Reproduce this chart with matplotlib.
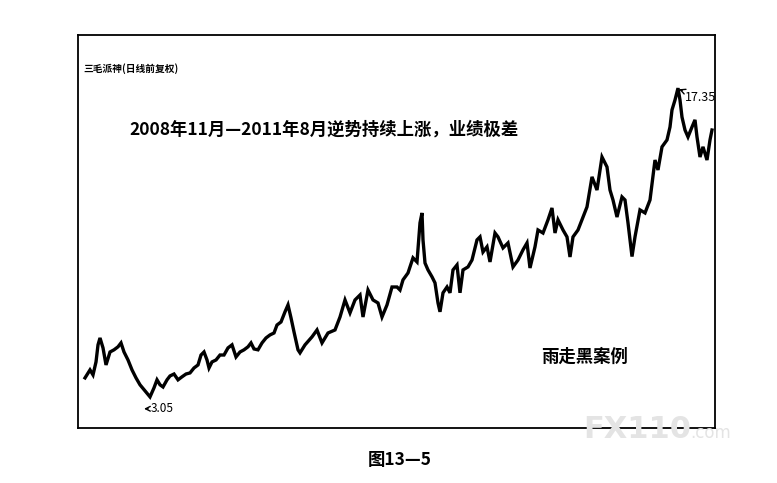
import matplotlib
matplotlib.use("Agg")
import matplotlib.pyplot as plt
import numpy as np

plt.rcParams['font.family'] = ['Noto Sans CJK SC', 'DejaVu Sans']

# trading day index (approx.) and closing price
day = [0, 5, 8, 11, 13, 15, 18, 21, 25, 29, 33, 36, 39, 43, 47, 51, 55, 60, 65, 69,
       72, 75, 78, 82, 85, 89, 93, 97, 101, 105, 109, 113, 116, 119, 122, 124, 127, 131, 135, 139,
       143, 147, 151, 155, 159, 163, 166, 169, 173, 177, 181, 185, 189, 192, 196, 200, 203, 206, 209, 213,
       215, 220, 227, 232, 237, 243, 250, 255, 260, 265, 270, 275, 278, 283, 288, 293, 297, 302, 307, 312,
       315, 318, 323, 328, 332, 335, 337, 338, 340, 343, 347, 350, 353, 355, 358, 362, 365, 368, 372, 375,
       378, 383, 387, 392, 395, 398, 402, 405, 410, 413, 418, 423, 428, 433, 438, 442, 445, 450, 453, 458,
       463, 467, 470, 473, 478, 482, 485, 488, 493, 498, 502,
       507, 512, 517, 522, 525, 528, 532, 537, 540, 543, 547, 550, 555, 560, 565, 570, 573, 577, 582,
       585, 587, 590, 593, 595, 597, 600, 603, 607, 610, 612, 615, 618, 622, 625, 627]
close = [3.93, 4.30, 4.07, 4.67, 5.46, 5.78, 5.32, 4.53, 5.13, 5.23,
         5.37, 5.55, 5.13, 4.76, 4.30, 3.93, 3.61, 3.33, 3.05, 3.47,
         3.84, 3.61, 3.51, 3.84, 4.02, 4.11, 3.84, 3.98, 4.11, 4.16,
         4.39, 4.53, 4.99, 5.13, 4.76, 4.39, 4.67, 4.76, 4.99, 4.99,
         5.32, 5.46, 4.90, 5.13, 5.23, 5.37, 5.55, 5.27, 5.23, 5.55,
         5.78, 5.92, 6.01, 6.38, 6.52, 6.99, 7.31, 6.71, 6.06, 5.23,
         5.09, 5.46, 5.83, 6.15, 5.55, 6.01, 6.15, 6.75, 7.54, 6.94,
         7.54, 7.77, 6.75, 8.00, 7.54, 7.40, 6.75, 7.31, 8.14, 8.14,
         8.00, 8.47, 8.79, 9.49, 9.30, 11.11, 11.57, 10.32, 9.25, 8.93,
         8.61, 8.33, 7.40, 6.99, 7.87, 8.14, 7.87, 8.93, 9.16, 7.87,
         8.93, 9.07, 9.39, 10.32, 10.46, 9.76, 10.00, 9.30, 10.64, 10.46,
         9.95, 10.18, 9.07, 9.39, 9.86, 10.18, 9.02, 10.00, 10.78, 10.64,
         11.25, 11.80, 10.64, 11.25, 10.78, 10.46, 9.53, 10.46, 10.78, 11.38,
         11.85,
         13.24, 12.63, 14.16, 13.70, 12.63, 12.17, 11.38, 12.31, 12.17, 11.11,
         9.55, 10.46, 11.71, 11.57, 12.17, 14.02, 13.56, 14.63, 14.95,
         15.55, 16.34, 16.80, 17.35, 16.80, 16.01, 15.41, 15.09, 15.55, 15.88,
         15.09, 14.16, 14.63, 14.02, 14.95, 15.41]

low_day, low_price = 65, 3.05
high_day, high_price = 593, 17.35

fig = plt.figure(figsize=(7.77, 4.83), dpi=100)
ax = fig.add_axes([0.1004, 0.1139, 0.8198, 0.8136])
ax.plot(day, close, color="black", lw=2.4, solid_joinstyle="miter")
ax.set_xlim(-7, 630)
ax.set_ylim(1.61, 19.81)
ax.set_xticks([])
ax.set_yticks([])
for s in ax.spines.values():
    s.set_linewidth(1.3)
    s.set_color("black")

ax.text(5/637, 0.915, "三毛派神(日线前复权)", transform=ax.transAxes,
        fontsize=7, fontweight="bold", va="center", ha="left")
ax.text(0.081, 0.76, "2008年11月—2011年8月逆势持续上涨，业绩极差", transform=ax.transAxes,
        fontsize=12.5, fontweight="bold", va="center", ha="left")
ax.text(0.727, 0.18, "雨走黑案例", transform=ax.transAxes,
        fontsize=12.5, fontweight="bold", va="center", ha="left")

ax.annotate(f"{low_price:.2f}", xy=(low_day - 6, low_price - 0.55),
            xytext=(low_day + 1, low_price - 0.55), fontsize=8.5, va="center", ha="left",
            arrowprops=dict(arrowstyle="->", lw=1, color="black",
                            shrinkA=0, shrinkB=0))
ax.annotate(f"{high_price:.2f}", xy=(high_day + 1, high_price - 0.05),
            xytext=(high_day + 7, high_price - 0.45), fontsize=9, va="center", ha="left",
            arrowprops=dict(arrowstyle="->", lw=1, color="black",
                            shrinkA=0, shrinkB=0))

fig.text(0.82, 0.11, "FX110", fontsize=22, fontweight="bold",
         color="#e4e4e4", ha="center", va="center", zorder=10, family="DejaVu Sans")
fig.text(0.888, 0.103, ".com", fontsize=12, color="#e4e4e4",
         ha="left", va="center", zorder=10, family="DejaVu Sans")

fig.text(0.515, 0.047, "图13—5", fontsize=12.5, fontweight="bold",
         ha="center", va="center")

fig.savefig("out.png", dpi=100, facecolor="white")
